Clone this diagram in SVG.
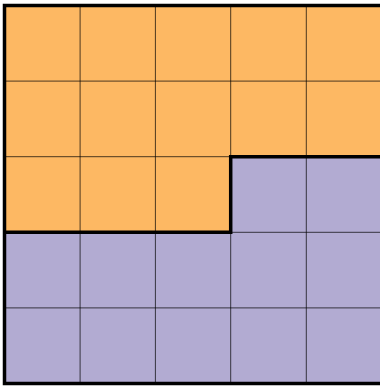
<svg xmlns="http://www.w3.org/2000/svg" width="380" height="390" viewBox="0 0 380 390">
<style>
.o{fill:#FDB863}
.p{fill:#B2ABD2}
.g{stroke:#000;stroke-opacity:0.7;stroke-width:1;fill:none}
.t{stroke:#000;stroke-width:3.5;fill:none;stroke-linejoin:miter}
</style>
<rect width="380" height="390" fill="#fff"/>
<g id="regions">
<path class="o" d="M4.5 5.5H382.5V156.7H230.7V232.3H4.5Z"/>
<path class="p" d="M230.7 156.7H382.5V383.5H4.5V232.3H230.7Z"/>
</g>
<g id="grid" class="g">
<path d="M80.1 5.5V383.5M155.4 5.5V383.5M230.7 5.5V383.5M306.3 5.5V383.5M4.5 81.1H382.5M4.5 156.7H382.5M4.5 232.3H382.5M4.5 307.9H382.5"/>
</g>
<g id="borders" class="t">
<rect x="4.5" y="5.5" width="378" height="378"/>
<path d="M4.5 232.3H230.7V156.7H382.5"/>
</g>
</svg>
